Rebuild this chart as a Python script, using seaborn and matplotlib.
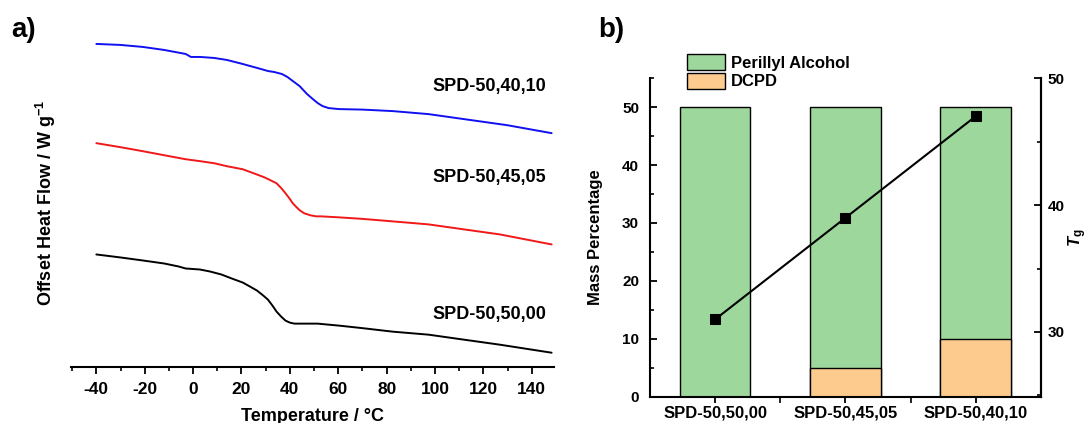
import numpy as np
import pandas as pd
import matplotlib
matplotlib.use("Agg")
import matplotlib.pyplot as plt
from matplotlib.ticker import MultipleLocator, NullLocator
import seaborn as sns

# ---- DSC traces (temperature in °C, offset heat flow in arbitrary W/g units) ----
temp_4010 = [-40, -30, -20.8, -12, -3.1, -0.9, 3, 8.7, 14, 20.5, 25, 28, 30.9, 33.5, 36.7, 39,
             41.2, 44, 47.1, 49.5, 51.5, 53.5, 56, 60.4, 70, 82.5, 97.3, 112, 129.7, 148.2]
flow_4010 = [3.22, 3.21, 3.19, 3.16, 3.12, 3.09, 3.09, 3.08, 3.06, 3.02, 2.99, 2.97, 2.95, 2.94,
             2.92, 2.89, 2.85, 2.80, 2.72, 2.67, 2.63, 2.60, 2.58, 2.57, 2.565, 2.55, 2.52, 2.47,
             2.41, 2.33]

temp_4505 = [-40, -30, -20.8, -12, -3.1, 3, 8.7, 14, 20.5, 25, 29.4, 32, 34.5, 36.5, 38.2, 39.8,
             41.2, 42.8, 44.1, 46, 48.6, 51, 53, 60.4, 70, 82.5, 97.3, 112, 126.8, 148.2]
flow_4505 = [2.23, 2.19, 2.15, 2.11, 2.07, 2.05, 2.03, 2.00, 1.97, 1.93, 1.89, 1.86, 1.83, 1.78,
             1.73, 1.68, 1.63, 1.59, 1.56, 1.53, 1.51, 1.50, 1.50, 1.49, 1.475, 1.45, 1.42, 1.37,
             1.32, 1.22]

temp_5000 = [-40, -30, -20.8, -12, -6, -3.1, 2.8, 7, 11.7, 16, 20.5, 23.5, 26.4, 29, 30.9, 32.8,
             34.5, 36.4, 38.2, 40, 41.9, 45, 51.5, 60.4, 70, 82.5, 97.3, 112, 126.8, 148.2]
flow_5000 = [1.12, 1.09, 1.06, 1.03, 1.00, 0.98, 0.97, 0.95, 0.92, 0.88, 0.84, 0.80, 0.76, 0.71,
             0.67, 0.61, 0.55, 0.50, 0.46, 0.44, 0.43, 0.43, 0.43, 0.41, 0.385, 0.35, 0.32, 0.27,
             0.22, 0.14]

trace_names = ["SPD-50,40,10", "SPD-50,45,05", "SPD-50,50,00"]
trace_colors = ["#1010f0", "#f01818", "#000000"]
label_y = [2.80, 1.89, 0.52]

# ---- Composition and glass transition ----
samples = ["SPD-50,50,00", "SPD-50,45,05", "SPD-50,40,10"]
perillyl = [50, 45, 40]
dcpd = [0, 5, 10]
tg = [31, 39, 47]

green = "#9dd79b"
orange = "#fdcb8e"

sns.set_theme(style="ticks")
plt.rcParams["font.family"] = ["Liberation Sans", "DejaVu Sans"]
plt.rcParams["font.weight"] = "bold"
plt.rcParams["axes.labelweight"] = "bold"
plt.rcParams["axes.unicode_minus"] = False
for key in ["text.color", "axes.labelcolor", "xtick.color", "ytick.color", "axes.edgecolor"]:
    plt.rcParams[key] = "black"
plt.rcParams["mathtext.fontset"] = "custom"
plt.rcParams["mathtext.rm"] = "Liberation Sans:bold"
plt.rcParams["mathtext.bf"] = "Liberation Sans:bold"
plt.rcParams["mathtext.it"] = "Liberation Sans:italic:bold"

fig = plt.figure(figsize=(10.89, 4.23), dpi=100)

# ================= panel a =================
ax1 = fig.add_axes([0.0656, 0.133, 0.4427, 0.775])
traces = pd.concat([
    pd.DataFrame({"T": temp_4010, "HF": flow_4010, "sample": trace_names[0]}),
    pd.DataFrame({"T": temp_4505, "HF": flow_4505, "sample": trace_names[1]}),
    pd.DataFrame({"T": temp_5000, "HF": flow_5000, "sample": trace_names[2]}),
])
sns.lineplot(data=traces, x="T", y="HF", hue="sample", palette=trace_colors,
             sort=False, estimator=None, linewidth=1.4, legend=False, ax=ax1)
for name, yv in zip(trace_names, label_y):
    ax1.text(146, yv, name, ha="right", va="center", fontsize=13, fontweight="bold")

ax1.set_xlim(-50.3, 149)
ax1.set_ylim(0, 3.27)
ax1.xaxis.set_major_locator(MultipleLocator(20))
ax1.xaxis.set_minor_locator(MultipleLocator(10))
ax1.yaxis.set_major_locator(NullLocator())
ax1.tick_params(axis="x", which="major", direction="out", length=5, width=1.3,
                labelsize=12.5, pad=6)
ax1.tick_params(axis="x", which="minor", direction="out", length=3, width=1.2)
for side in ["top", "right", "left"]:
    ax1.spines[side].set_visible(False)
ax1.spines["bottom"].set_linewidth(1.5)
ax1.set_xlabel("Temperature / °C", fontsize=13, fontweight="bold", labelpad=8)
ax1.set_ylabel(r"Offset Heat Flow / W g$^{-1}$", fontsize=13, fontweight="bold", labelpad=10)
ax1.patch.set_alpha(0)
for lab in ax1.get_xticklabels():
    lab.set_fontweight("bold")

fig.text(0.010, 0.928, "a)", fontsize=20, fontweight="bold", ha="left", va="center")

# ================= panel b =================
ax2 = fig.add_axes([0.597, 0.0622, 0.3587, 0.7528])
sns.barplot(x=samples, y=[p + d for p, d in zip(perillyl, dcpd)], color=green, saturation=1,
            edgecolor="black", linewidth=1.0, width=0.54, label="Perillyl Alcohol", ax=ax2)
sns.barplot(x=samples, y=dcpd, color=orange, saturation=1,
            edgecolor="black", linewidth=1.0, width=0.54, label="DCPD", ax=ax2)
if ax2.get_legend() is not None:
    ax2.get_legend().remove()
ax2.set_xlim(-0.5, 2.5)
ax2.set_ylim(0, 55)
ax2.yaxis.set_major_locator(MultipleLocator(10))
ax2.yaxis.set_minor_locator(MultipleLocator(5))
ax2.set_xticks([0.5, 1.5], minor=True)
ax2.tick_params(axis="x", which="major", direction="out", length=4, width=1.3,
                labelsize=12, pad=2)
ax2.tick_params(axis="x", which="minor", direction="out", length=4, width=1.2)
ax2.tick_params(axis="y", which="major", direction="in", length=5, width=1.3, labelsize=11,
                pad=8)
ax2.tick_params(axis="y", which="minor", direction="in", length=3, width=1.2)
ax2.spines["top"].set_visible(False)
for side in ["left", "bottom", "right"]:
    ax2.spines[side].set_linewidth(1.5)
ax2.set_xlabel("")
ax2.set_ylabel("Mass Percentage", fontsize=12, fontweight="bold", labelpad=14)
for lab in ax2.get_xticklabels() + ax2.get_yticklabels():
    lab.set_fontweight("bold")

handles, labels = ax2.get_legend_handles_labels()
fig.legend(handles, labels, loc="upper left", bbox_to_anchor=(0.623, 0.893),
           frameon=False, handlelength=2.3, handleheight=1.15,
           handletextpad=0.35, labelspacing=0.12, borderpad=0.0,
           prop={"weight": "bold", "size": 12})

ax3 = ax2.twinx()
sns.lineplot(x=samples, y=tg, color="black", marker="s", markersize=7, linewidth=1.5,
             markeredgecolor="black", legend=False, ax=ax3)
if ax3.get_legend() is not None:
    ax3.get_legend().remove()
ax3.set_ylim(24.9, 50)
ax3.set_xlim(-0.5, 2.5)
ax3.yaxis.set_major_locator(MultipleLocator(10))
ax3.yaxis.set_minor_locator(MultipleLocator(5))
ax3.tick_params(axis="y", which="major", direction="in", length=5, width=1.3, labelsize=11,
                pad=5)
ax3.tick_params(axis="y", which="minor", direction="in", length=3, width=1.2)
ax3.spines["top"].set_visible(False)
ax3.spines["right"].set_linewidth(1.5)
ax3.set_ylabel(r"$\mathit{T}_\mathrm{g}$", fontsize=12, labelpad=1)
for lab in ax3.get_yticklabels():
    lab.set_fontweight("bold")

fig.text(0.549, 0.928, "b)", fontsize=20, fontweight="bold", ha="left", va="center")

fig.savefig("out.png", dpi=100)
